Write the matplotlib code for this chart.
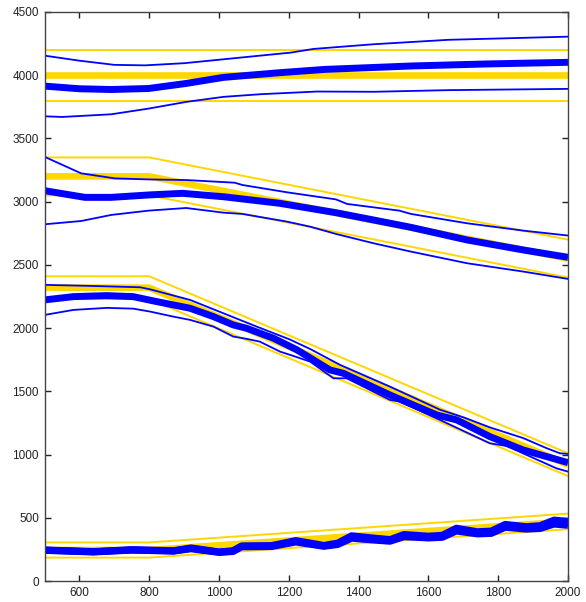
import matplotlib
matplotlib.use("Agg")
import matplotlib.pyplot as plt

plt.rcParams['font.family'] = ['Liberation Sans', 'DejaVu Sans']

# ---------------- data ----------------
gold_x = [500, 800, 2000]
# group 1 (around 4000)
g1_mid = [4000, 4000, 4000]
g1_hi = [4200, 4200, 4200]
g1_lo = [3800, 3800, 3800]
# group 2
g2_mid = [3200, 3200, 2550]
g2_hi = [3350, 3350, 2700]
g2_lo = [3050, 3050, 2400]
# group 3
g3_mid = [2320, 2320, 920]
g3_hi = [2410, 2410, 1010]
g3_lo = [2230, 2230, 830]
# group 4
g4_mid = [245, 245, 470]
g4_hi = [305, 305, 533]
g4_lo = [185, 185, 410]

# blue group 1
b1_hi_x = [500, 600, 700, 788, 900, 1013, 1100, 1206, 1271, 1443, 1657, 2000]
b1_hi_y = [4155, 4115, 4082, 4078, 4095, 4126, 4150, 4179, 4208, 4245, 4280, 4305]
b1_mid_x = [500, 600, 691, 798, 906, 1013, 1174, 1303, 1550, 1765, 2000]
b1_mid_y = [3914, 3893, 3887, 3895, 3935, 3983, 4020, 4046, 4073, 4089, 4102]
b1_lo_x = [500, 551, 691, 798, 906, 1013, 1120, 1281, 1443, 1657, 2000]
b1_lo_y = [3675, 3670, 3691, 3736, 3789, 3829, 3850, 3871, 3869, 3882, 3892]

# blue group 2
b2_hi_x = [500, 605, 702, 798, 906, 1045, 1067, 1195, 1335, 1367, 1517, 1550, 1711, 1872, 2000]
b2_hi_y = [3355, 3224, 3184, 3176, 3171, 3150, 3132, 3074, 3018, 2982, 2929, 2903, 2829, 2771, 2732]
b2_mid_x = [500, 616, 691, 798, 895, 1013, 1174, 1335, 1443, 1550, 1711, 1872, 2000]
b2_mid_y = [3087, 3034, 3034, 3053, 3066, 3039, 2987, 2913, 2855, 2797, 2697, 2618, 2560]
b2_lo_x = [500, 605, 691, 798, 906, 1013, 1067, 1195, 1260, 1335, 1443, 1550, 1711, 1872, 2000]
b2_lo_y = [2821, 2847, 2895, 2929, 2950, 2913, 2903, 2842, 2803, 2745, 2671, 2605, 2513, 2447, 2389]

# blue group 3
b3_hi_x = [500, 630, 774, 802, 917, 1012, 1108, 1203, 1261, 1347, 1490, 1633, 1700, 1776, 1872, 1939, 1977, 2000]
b3_hi_y = [2342, 2334, 2323, 2307, 2223, 2118, 2012, 1910, 1835, 1709, 1537, 1355, 1295, 1215, 1130, 1050, 1010, 1005]
b3_mid_x = [500, 583, 678, 754, 821, 917, 984, 1041, 1079, 1156, 1222, 1318, 1356, 1490, 1624, 1681, 1776, 1872, 2000]
b3_mid_y = [2223, 2249, 2257, 2249, 2210, 2157, 2091, 2025, 1999, 1920, 1830, 1669, 1643, 1471, 1313, 1274, 1142, 1036, 936]
b3_lo_x = [500, 583, 678, 754, 802, 869, 917, 984, 1041, 1079, 1117, 1175, 1213, 1261, 1328, 1366, 1490, 1518, 1633, 1776, 1824, 1967, 2000]
b3_lo_y = [2104, 2144, 2160, 2154, 2131, 2091, 2065, 2012, 1933, 1915, 1893, 1814, 1780, 1735, 1603, 1603, 1432, 1419, 1274, 1089, 1068, 891, 865]

# blue group 4 (several overlapping thick lines)
b4_x = [500, 640, 750, 870, 920, 1000, 1040, 1065, 1150, 1220, 1300, 1340, 1380, 1450,
        1490, 1530, 1600, 1640, 1680, 1740, 1780, 1820, 1880, 1920, 1960, 2000]
b4_a = [246, 233, 248, 240, 262, 230, 240, 278, 280, 320, 282, 300, 358, 338,
        328, 368, 355, 362, 418, 390, 395, 448, 430, 438, 482, 472]
b4_b = [244, 231, 246, 238, 258, 228, 236, 274, 276, 314, 278, 294, 348, 330,
        320, 358, 346, 352, 405, 380, 384, 436, 420, 426, 465, 455]
b4_c = [242, 229, 244, 236, 255, 226, 233, 270, 272, 308, 274, 288, 338, 322,
        314, 350, 340, 345, 395, 372, 376, 424, 410, 415, 450, 440]

x_ticks = [600, 800, 1000, 1200, 1400, 1600, 1800, 2000]
y_ticks = [0, 500, 1000, 1500, 2000, 2500, 3000, 3500, 4000, 4500]

# ---------------- plot ----------------
GOLD = '#ffd700'
BLUE = '#0000ff'

fig = plt.figure(figsize=(5.86, 6.02), dpi=100)
ax = fig.add_axes([44.5 / 586, 21 / 602, (568 - 44.5) / 586, (581 - 12) / 602])

for mid, hi, lo in [(g1_mid, g1_hi, g1_lo), (g2_mid, g2_hi, g2_lo),
                    (g3_mid, g3_hi, g3_lo), (g4_mid, g4_hi, g4_lo)]:
    ax.plot(gold_x, hi, color=GOLD, lw=1.4, solid_capstyle='butt')
    ax.plot(gold_x, lo, color=GOLD, lw=1.4, solid_capstyle='butt')
    ax.plot(gold_x, mid, color=GOLD, lw=4.8, solid_capstyle='butt')

thin = [(b1_hi_x, b1_hi_y), (b1_lo_x, b1_lo_y),
        (b2_hi_x, b2_hi_y), (b2_lo_x, b2_lo_y),
        (b3_hi_x, b3_hi_y), (b3_lo_x, b3_lo_y)]
for xs, ys in thin:
    ax.plot(xs, ys, color=BLUE, lw=1.3, solid_joinstyle='round')

thick = [(b1_mid_x, b1_mid_y), (b2_mid_x, b2_mid_y), (b3_mid_x, b3_mid_y),
         (b4_x, b4_c), (b4_x, b4_b), (b4_x, b4_a)]
for xs, ys in thick:
    ax.plot(xs, ys, color=BLUE, lw=5.0, solid_joinstyle='round', solid_capstyle='butt')

ax.set_xlim(500, 2000)
ax.set_ylim(0, 4500)
ax.set_xticks(x_ticks)
ax.set_yticks(y_ticks)
ax.tick_params(direction='in', length=4, width=1, top=True, right=True,
               labelsize=8.5, colors='#222222', pad=4)
for s in ax.spines.values():
    s.set_color('#444444')
    s.set_linewidth(1)

fig.savefig('out.png', dpi=100)
